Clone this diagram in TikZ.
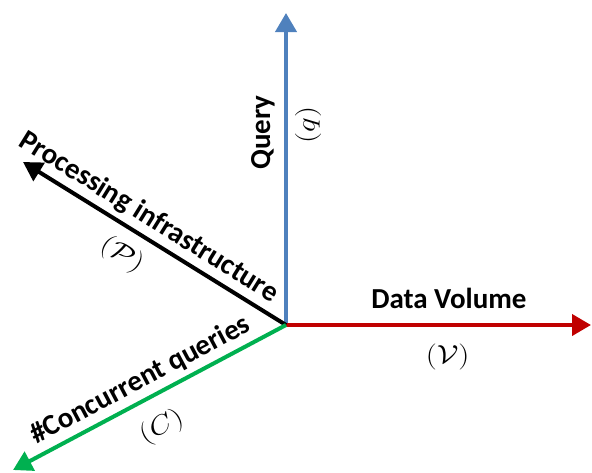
\documentclass[tikz,border=0pt]{standalone}
\usepackage{amsmath,amssymb}
\usepackage{graphicx}
\usepackage{fontspec}
\setmainfont{Carlito}
\usepackage{xcolor}
\usetikzlibrary{arrows.meta,positioning}

\definecolor{axisblue}{RGB}{79,129,189}
\definecolor{axisred}{RGB}{192,0,0}
\definecolor{axisgreen}{RGB}{0,176,80}
\newcommand{\axsym}[1]{\scalebox{1.25}[1.05]{$(#1)$}}

\begin{document}
\begin{tikzpicture}[
  x=1pt, y=1pt,
  axis/.style={-{Triangle[length=19pt, width=21pt]}, line width=4pt},
  lab/.style={font=\fontsize{29}{32}\selectfont\bfseries, text=black, inner sep=0pt, text height=0pt, text depth=0pt},
  sym/.style={font=\fontsize{24.88}{28}\selectfont, text=black, inner sep=0pt, text height=0pt, text depth=0pt}
]
\useasboundingbox (0,0) rectangle (592,-472);
\coordinate (origin) at (286,-325);
\coordinate (qend) at (286,-13);
\coordinate (vend) at (591,-325);
\coordinate (pend) at (23,-162);
\coordinate (cend) at (13,-470);

\draw[axis, axisblue] (origin) -- (qend)
  node[pos=0.617, sloped, above=13.5pt, lab] (query) {Query}
  node[pos=0.641, sloped, below=26pt, sym] (qsym) {\axsym{q}};
\draw[axis, axisred] (origin) -- (vend)
  node[pos=0.534, above=14.5pt, lab] (volume) {Data Volume}
  node[pos=0.53, below=36pt, sym] (vsym) {\axsym{\mathcal{V}}};
\draw[axis, black] (origin) -- (pend)
  node[pos=0.56, sloped, above=9pt, lab] (proc) {Processing infrastructure}
  node[pos=0.57, sloped, below=31pt, sym] (psym) {\axsym{\mathcal{P}}};
\draw[axis, axisgreen] (origin) -- (cend)
  node[pos=0.5, sloped, above=9pt, lab] (conc) {\#Concurrent queries}
  node[pos=0.51, sloped, below=36pt, sym] (csym) {\axsym{C}};
\end{tikzpicture}
\end{document}
